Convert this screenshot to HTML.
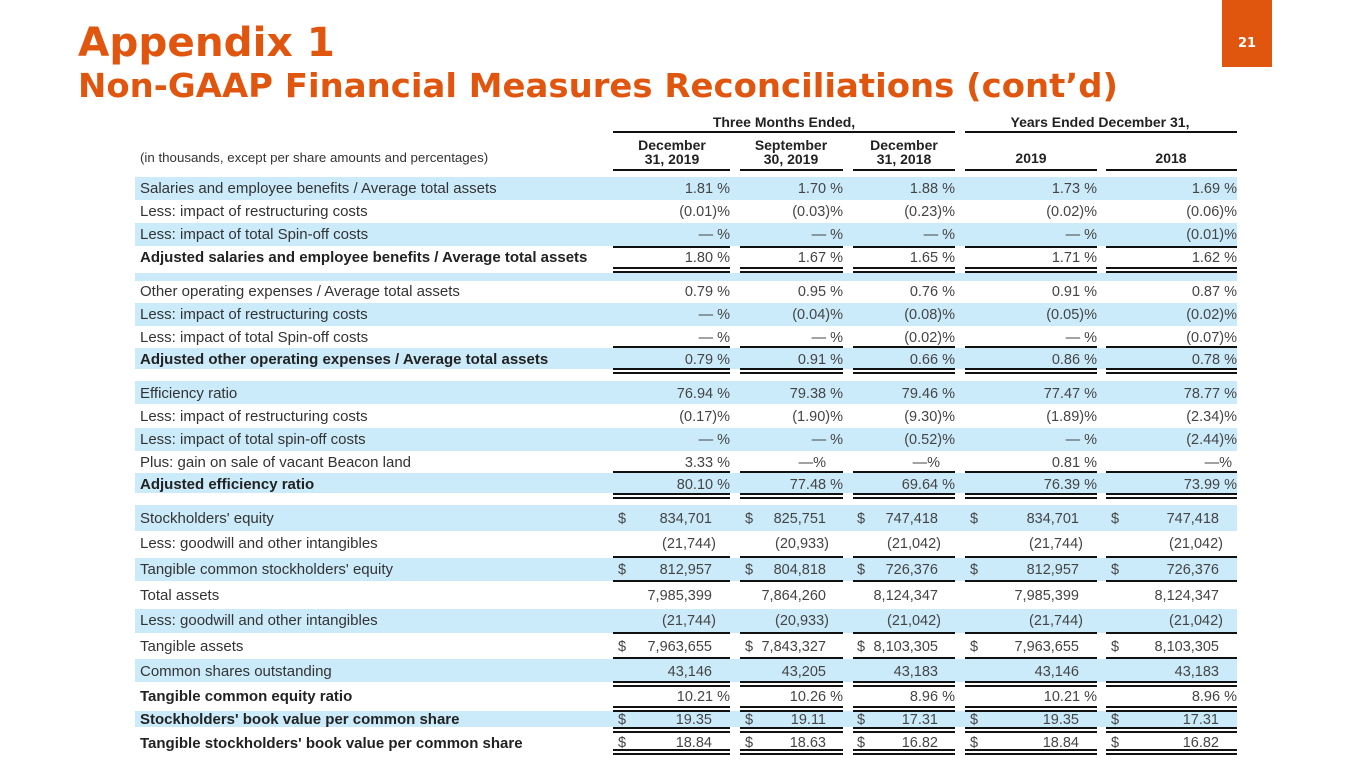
<!DOCTYPE html>
<html><head><meta charset="utf-8"><style>
html,body{margin:0;padding:0;background:#fff;}
svg{display:block;}
.l{font-family:"Liberation Sans",Arial,sans-serif;font-size:15px;fill:#333;}
.b{font-weight:bold;fill:#222;}
.v{font-family:"Liberation Sans",Arial,sans-serif;font-size:14.5px;fill:#444;text-anchor:end;}
.d{font-family:"Liberation Sans",Arial,sans-serif;font-size:14.5px;fill:#444;}
.h{font-family:"Liberation Sans",Arial,sans-serif;font-size:14px;font-weight:bold;fill:#222;text-anchor:middle;}
</style></head><body>
<svg width="1365" height="768" viewBox="0 0 1365 768" xmlns="http://www.w3.org/2000/svg">
<rect width="1365" height="768" fill="#fff"/>
<text x="78" y="56" font-family="DejaVu Sans, Verdana, sans-serif" font-weight="bold" font-size="40" fill="#E0560F" textLength="257" lengthAdjust="spacingAndGlyphs">Appendix 1</text>
<text x="78" y="97" font-family="DejaVu Sans, Verdana, sans-serif" font-weight="bold" font-size="33" fill="#E0560F" textLength="1040" lengthAdjust="spacingAndGlyphs">Non-GAAP Financial Measures Reconciliations (cont’d)</text>
<rect x="1222" y="0" width="50" height="67" fill="#E0560F"/>
<text x="1247" y="47" font-family="DejaVu Sans, sans-serif" font-weight="bold" font-size="13" fill="#fff" text-anchor="middle">21</text>

<g fill="#CCEBFA">
<rect x="135" y="177" width="1102" height="23"/>
<rect x="135" y="223" width="1102" height="23"/>
<rect x="135" y="273" width="1102" height="8"/>
<rect x="135" y="303" width="1102" height="23"/>
<rect x="135" y="348" width="1102" height="21"/>
<rect x="135" y="381" width="1102" height="23"/>
<rect x="135" y="428" width="1102" height="23"/>
<rect x="135" y="473" width="1102" height="20"/>
<rect x="135" y="505" width="1102" height="26"/>
<rect x="135" y="558" width="1102" height="23"/>
<rect x="135" y="609" width="1102" height="24"/>
<rect x="135" y="659" width="1102" height="23"/>
<rect x="135" y="711" width="1102" height="16"/>
</g>

<text class="h" x="784" y="127">Three Months Ended,</text>
<text class="h" x="1100" y="127">Years Ended December 31,</text>
<rect x="613" y="131" width="342" height="2" fill="#111"/>
<rect x="965" y="131" width="272" height="2" fill="#111"/>
<text class="h" x="672" y="150">December</text><text class="h" x="672" y="164">31, 2019</text>
<text class="h" x="791" y="150">September</text><text class="h" x="791" y="164">30, 2019</text>
<text class="h" x="904" y="150">December</text><text class="h" x="904" y="164">31, 2018</text>
<text class="h" x="1031" y="163">2019</text>
<text class="h" x="1171" y="163">2018</text>
<text x="140" y="162" font-family="Liberation Sans, Arial, sans-serif" font-size="13.3" fill="#333">(in thousands, except per share amounts and percentages)</text>

<g fill="#111">
<rect x="613" y="169" width="117" height="2"/><rect x="740" y="169" width="103" height="2"/><rect x="853" y="169" width="102" height="2"/><rect x="965" y="169" width="132" height="2"/><rect x="1106" y="169" width="131" height="2"/>
<rect x="613" y="246" width="117" height="2"/><rect x="740" y="246" width="103" height="2"/><rect x="853" y="246" width="102" height="2"/><rect x="965" y="246" width="132" height="2"/><rect x="1106" y="246" width="131" height="2"/>
<rect x="613" y="267" width="117" height="2"/><rect x="740" y="267" width="103" height="2"/><rect x="853" y="267" width="102" height="2"/><rect x="965" y="267" width="132" height="2"/><rect x="1106" y="267" width="131" height="2"/>
<rect x="613" y="271" width="117" height="2"/><rect x="740" y="271" width="103" height="2"/><rect x="853" y="271" width="102" height="2"/><rect x="965" y="271" width="132" height="2"/><rect x="1106" y="271" width="131" height="2"/>
<rect x="613" y="346" width="117" height="2"/><rect x="740" y="346" width="103" height="2"/><rect x="853" y="346" width="102" height="2"/><rect x="965" y="346" width="132" height="2"/><rect x="1106" y="346" width="131" height="2"/>
<rect x="613" y="368" width="117" height="2"/><rect x="740" y="368" width="103" height="2"/><rect x="853" y="368" width="102" height="2"/><rect x="965" y="368" width="132" height="2"/><rect x="1106" y="368" width="131" height="2"/>
<rect x="613" y="372" width="117" height="2"/><rect x="740" y="372" width="103" height="2"/><rect x="853" y="372" width="102" height="2"/><rect x="965" y="372" width="132" height="2"/><rect x="1106" y="372" width="131" height="2"/>
<rect x="613" y="471" width="117" height="2"/><rect x="740" y="471" width="103" height="2"/><rect x="853" y="471" width="102" height="2"/><rect x="965" y="471" width="132" height="2"/><rect x="1106" y="471" width="131" height="2"/>
<rect x="613" y="493" width="117" height="2"/><rect x="740" y="493" width="103" height="2"/><rect x="853" y="493" width="102" height="2"/><rect x="965" y="493" width="132" height="2"/><rect x="1106" y="493" width="131" height="2"/>
<rect x="613" y="497" width="117" height="2"/><rect x="740" y="497" width="103" height="2"/><rect x="853" y="497" width="102" height="2"/><rect x="965" y="497" width="132" height="2"/><rect x="1106" y="497" width="131" height="2"/>
<rect x="613" y="556" width="117" height="2"/><rect x="740" y="556" width="103" height="2"/><rect x="853" y="556" width="102" height="2"/><rect x="965" y="556" width="132" height="2"/><rect x="1106" y="556" width="131" height="2"/>
<rect x="613" y="580" width="117" height="2"/><rect x="740" y="580" width="103" height="2"/><rect x="853" y="580" width="102" height="2"/><rect x="965" y="580" width="132" height="2"/><rect x="1106" y="580" width="131" height="2"/>
<rect x="613" y="632" width="117" height="2"/><rect x="740" y="632" width="103" height="2"/><rect x="853" y="632" width="102" height="2"/><rect x="965" y="632" width="132" height="2"/><rect x="1106" y="632" width="131" height="2"/>
<rect x="613" y="657" width="117" height="2"/><rect x="740" y="657" width="103" height="2"/><rect x="853" y="657" width="102" height="2"/><rect x="965" y="657" width="132" height="2"/><rect x="1106" y="657" width="131" height="2"/>
<rect x="613" y="681" width="117" height="2"/><rect x="740" y="681" width="103" height="2"/><rect x="853" y="681" width="102" height="2"/><rect x="965" y="681" width="132" height="2"/><rect x="1106" y="681" width="131" height="2"/>
<rect x="613" y="685" width="117" height="2"/><rect x="740" y="685" width="103" height="2"/><rect x="853" y="685" width="102" height="2"/><rect x="965" y="685" width="132" height="2"/><rect x="1106" y="685" width="131" height="2"/>
<rect x="613" y="706" width="117" height="2"/><rect x="740" y="706" width="103" height="2"/><rect x="853" y="706" width="102" height="2"/><rect x="965" y="706" width="132" height="2"/><rect x="1106" y="706" width="131" height="2"/>
<rect x="613" y="710" width="117" height="2"/><rect x="740" y="710" width="103" height="2"/><rect x="853" y="710" width="102" height="2"/><rect x="965" y="710" width="132" height="2"/><rect x="1106" y="710" width="131" height="2"/>
<rect x="613" y="727" width="117" height="2"/><rect x="740" y="727" width="103" height="2"/><rect x="853" y="727" width="102" height="2"/><rect x="965" y="727" width="132" height="2"/><rect x="1106" y="727" width="131" height="2"/>
<rect x="613" y="731" width="117" height="2"/><rect x="740" y="731" width="103" height="2"/><rect x="853" y="731" width="102" height="2"/><rect x="965" y="731" width="132" height="2"/><rect x="1106" y="731" width="131" height="2"/>
<rect x="613" y="749" width="117" height="2"/><rect x="740" y="749" width="103" height="2"/><rect x="853" y="749" width="102" height="2"/><rect x="965" y="749" width="132" height="2"/><rect x="1106" y="749" width="131" height="2"/>
<rect x="613" y="753" width="117" height="2"/><rect x="740" y="753" width="103" height="2"/><rect x="853" y="753" width="102" height="2"/><rect x="965" y="753" width="132" height="2"/><rect x="1106" y="753" width="131" height="2"/>
</g>

<text class="l" x="140" y="193">Salaries and employee benefits / Average total assets</text>
<text class="l" x="140" y="216">Less: impact of restructuring costs</text>
<text class="l" x="140" y="239">Less: impact of total Spin-off costs</text>
<text class="l b" x="140" y="262">Adjusted salaries and employee benefits / Average total assets</text>
<text class="l" x="140" y="296">Other operating expenses / Average total assets</text>
<text class="l" x="140" y="319">Less: impact of restructuring costs</text>
<text class="l" x="140" y="342">Less: impact of total Spin-off costs</text>
<text class="l b" x="140" y="364">Adjusted other operating expenses / Average total assets</text>
<text class="l" x="140" y="398">Efficiency ratio</text>
<text class="l" x="140" y="421">Less: impact of restructuring costs</text>
<text class="l" x="140" y="444">Less: impact of total spin-off costs</text>
<text class="l" x="140" y="467">Plus: gain on sale of vacant Beacon land</text>
<text class="l b" x="140" y="489">Adjusted efficiency ratio</text>
<text class="l" x="140" y="523">Stockholders' equity</text>
<text class="l" x="140" y="548">Less: goodwill and other intangibles</text>
<text class="l" x="140" y="574">Tangible common stockholders' equity</text>
<text class="l" x="140" y="600">Total assets</text>
<text class="l" x="140" y="625">Less: goodwill and other intangibles</text>
<text class="l" x="140" y="651">Tangible assets</text>
<text class="l" x="140" y="676">Common shares outstanding</text>
<text class="l b" x="140" y="701">Tangible common equity ratio</text>
<text class="l b" x="140" y="724">Stockholders' book value per common share</text>
<text class="l b" x="140" y="748">Tangible stockholders' book value per common share</text>

<g>
<text class="v" x="730" y="193">1.81 %</text><text class="v" x="843" y="193">1.70 %</text><text class="v" x="955" y="193">1.88 %</text><text class="v" x="1097" y="193">1.73 %</text><text class="v" x="1237" y="193">1.69 %</text>
<text class="v" x="730" y="216">(0.01)%</text><text class="v" x="843" y="216">(0.03)%</text><text class="v" x="955" y="216">(0.23)%</text><text class="v" x="1097" y="216">(0.02)%</text><text class="v" x="1237" y="216">(0.06)%</text>
<text class="v" x="730" y="239">— %</text><text class="v" x="843" y="239">— %</text><text class="v" x="955" y="239">— %</text><text class="v" x="1097" y="239">— %</text><text class="v" x="1237" y="239">(0.01)%</text>
<text class="v" x="730" y="262">1.80 %</text><text class="v" x="843" y="262">1.67 %</text><text class="v" x="955" y="262">1.65 %</text><text class="v" x="1097" y="262">1.71 %</text><text class="v" x="1237" y="262">1.62 %</text>
<text class="v" x="730" y="296">0.79 %</text><text class="v" x="843" y="296">0.95 %</text><text class="v" x="955" y="296">0.76 %</text><text class="v" x="1097" y="296">0.91 %</text><text class="v" x="1237" y="296">0.87 %</text>
<text class="v" x="730" y="319">— %</text><text class="v" x="843" y="319">(0.04)%</text><text class="v" x="955" y="319">(0.08)%</text><text class="v" x="1097" y="319">(0.05)%</text><text class="v" x="1237" y="319">(0.02)%</text>
<text class="v" x="730" y="342">— %</text><text class="v" x="843" y="342">— %</text><text class="v" x="955" y="342">(0.02)%</text><text class="v" x="1097" y="342">— %</text><text class="v" x="1237" y="342">(0.07)%</text>
<text class="v" x="730" y="364">0.79 %</text><text class="v" x="843" y="364">0.91 %</text><text class="v" x="955" y="364">0.66 %</text><text class="v" x="1097" y="364">0.86 %</text><text class="v" x="1237" y="364">0.78 %</text>
<text class="v" x="730" y="398">76.94 %</text><text class="v" x="843" y="398">79.38 %</text><text class="v" x="955" y="398">79.46 %</text><text class="v" x="1097" y="398">77.47 %</text><text class="v" x="1237" y="398">78.77 %</text>
<text class="v" x="730" y="421">(0.17)%</text><text class="v" x="843" y="421">(1.90)%</text><text class="v" x="955" y="421">(9.30)%</text><text class="v" x="1097" y="421">(1.89)%</text><text class="v" x="1237" y="421">(2.34)%</text>
<text class="v" x="730" y="444">— %</text><text class="v" x="843" y="444">— %</text><text class="v" x="955" y="444">(0.52)%</text><text class="v" x="1097" y="444">— %</text><text class="v" x="1237" y="444">(2.44)%</text>
<text class="v" x="730" y="467">3.33 %</text><text class="v" x="826" y="467">—%</text><text class="v" x="940" y="467">—%</text><text class="v" x="1097" y="467">0.81 %</text><text class="v" x="1232" y="467">—%</text>
<text class="v" x="730" y="489">80.10 %</text><text class="v" x="843" y="489">77.48 %</text><text class="v" x="955" y="489">69.64 %</text><text class="v" x="1097" y="489">76.39 %</text><text class="v" x="1237" y="489">73.99 %</text>
</g>

<g>
<text class="d" x="618" y="523">$</text><text class="d" x="745" y="523">$</text><text class="d" x="857" y="523">$</text><text class="d" x="970" y="523">$</text><text class="d" x="1111" y="523">$</text>
<text class="v" x="712" y="523">834,701</text><text class="v" x="826" y="523">825,751</text><text class="v" x="938" y="523">747,418</text><text class="v" x="1079" y="523">834,701</text><text class="v" x="1219" y="523">747,418</text>
<text class="v" x="716" y="548">(21,744)</text><text class="v" x="829" y="548">(20,933)</text><text class="v" x="941" y="548">(21,042)</text><text class="v" x="1083" y="548">(21,744)</text><text class="v" x="1223" y="548">(21,042)</text>
<text class="d" x="618" y="574">$</text><text class="d" x="745" y="574">$</text><text class="d" x="857" y="574">$</text><text class="d" x="970" y="574">$</text><text class="d" x="1111" y="574">$</text>
<text class="v" x="712" y="574">812,957</text><text class="v" x="826" y="574">804,818</text><text class="v" x="938" y="574">726,376</text><text class="v" x="1079" y="574">812,957</text><text class="v" x="1219" y="574">726,376</text>
<text class="v" x="712" y="600">7,985,399</text><text class="v" x="826" y="600">7,864,260</text><text class="v" x="938" y="600">8,124,347</text><text class="v" x="1079" y="600">7,985,399</text><text class="v" x="1219" y="600">8,124,347</text>
<text class="v" x="716" y="625">(21,744)</text><text class="v" x="829" y="625">(20,933)</text><text class="v" x="941" y="625">(21,042)</text><text class="v" x="1083" y="625">(21,744)</text><text class="v" x="1223" y="625">(21,042)</text>
<text class="d" x="618" y="651">$</text><text class="d" x="745" y="651">$</text><text class="d" x="857" y="651">$</text><text class="d" x="970" y="651">$</text><text class="d" x="1111" y="651">$</text>
<text class="v" x="712" y="651">7,963,655</text><text class="v" x="826" y="651">7,843,327</text><text class="v" x="938" y="651">8,103,305</text><text class="v" x="1079" y="651">7,963,655</text><text class="v" x="1219" y="651">8,103,305</text>
<text class="v" x="712" y="676">43,146</text><text class="v" x="826" y="676">43,205</text><text class="v" x="938" y="676">43,183</text><text class="v" x="1079" y="676">43,146</text><text class="v" x="1219" y="676">43,183</text>
<text class="v" x="730" y="701">10.21 %</text><text class="v" x="843" y="701">10.26 %</text><text class="v" x="955" y="701">8.96 %</text><text class="v" x="1097" y="701">10.21 %</text><text class="v" x="1237" y="701">8.96 %</text>
<text class="d" x="618" y="724">$</text><text class="d" x="745" y="724">$</text><text class="d" x="857" y="724">$</text><text class="d" x="970" y="724">$</text><text class="d" x="1111" y="724">$</text>
<text class="v" x="712" y="724">19.35</text><text class="v" x="826" y="724">19.11</text><text class="v" x="938" y="724">17.31</text><text class="v" x="1079" y="724">19.35</text><text class="v" x="1219" y="724">17.31</text>
<text class="d" x="618" y="747">$</text><text class="d" x="745" y="747">$</text><text class="d" x="857" y="747">$</text><text class="d" x="970" y="747">$</text><text class="d" x="1111" y="747">$</text>
<text class="v" x="712" y="747">18.84</text><text class="v" x="826" y="747">18.63</text><text class="v" x="938" y="747">16.82</text><text class="v" x="1079" y="747">18.84</text><text class="v" x="1219" y="747">16.82</text>
</g>
</svg>
</body></html>
